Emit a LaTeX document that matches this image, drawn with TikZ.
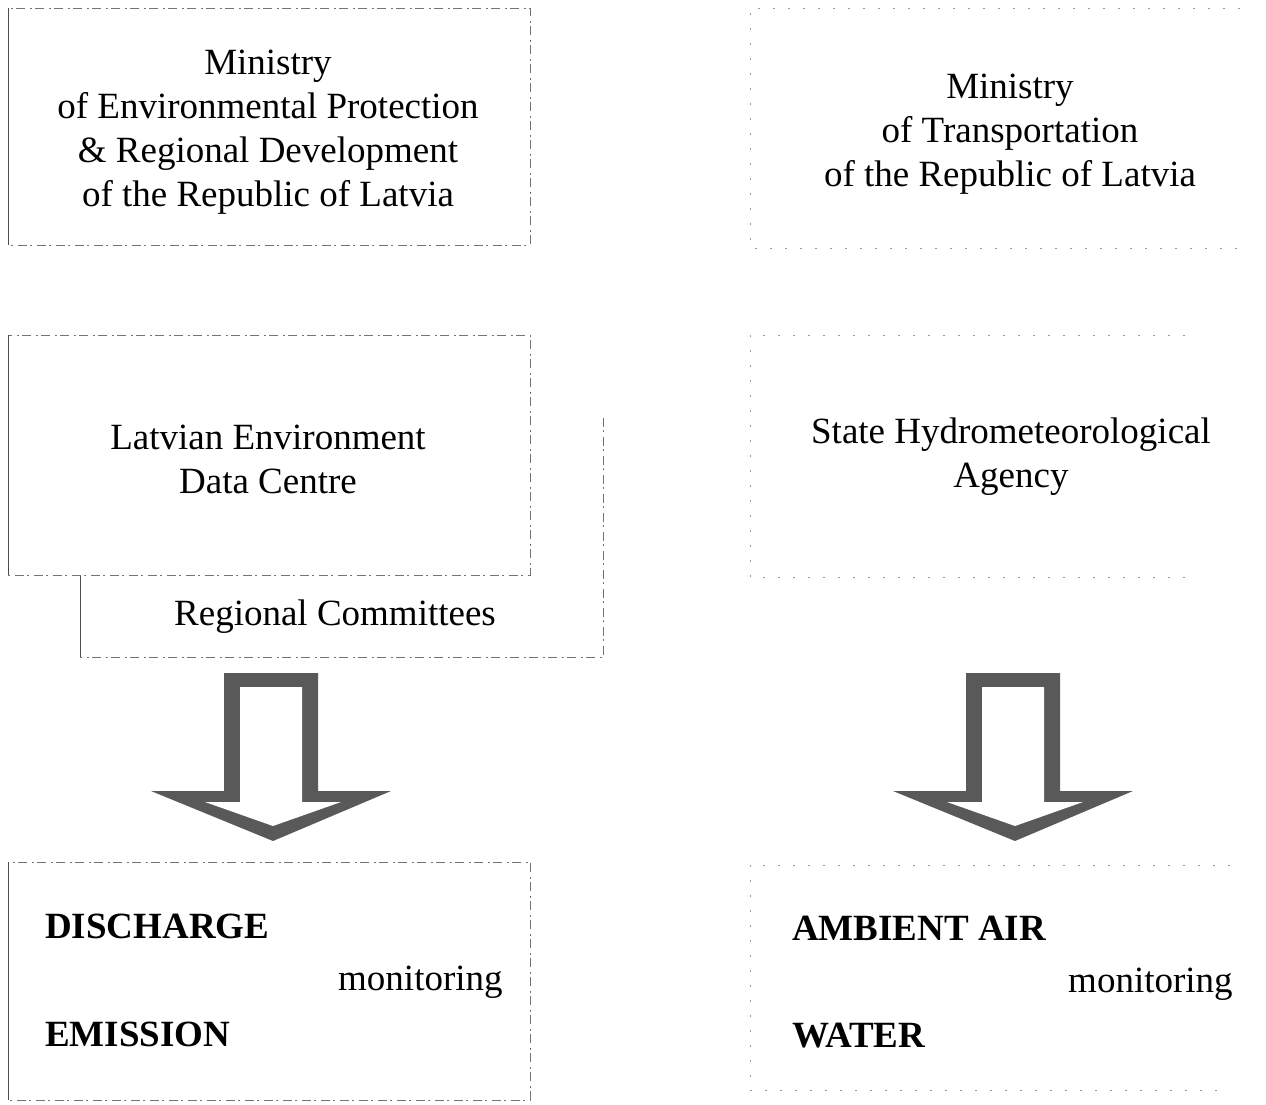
\documentclass[tikz,border=0pt]{standalone}
\usepackage{fontspec}
\setmainfont{Liberation Serif}
\usetikzlibrary{positioning}

\tikzset{
  frame/.style={draw=black!55, line width=0.8pt, dash pattern=on 9pt off 3pt on 2pt off 5pt},
  edge/.style={draw=black!70, line width=0.9pt},
  faint/.style={draw=black!40, line width=0.8pt, dash pattern=on 2pt off 13pt},
  lbl/.style={font=\fontsize{37}{44}\selectfont, align=center, inner sep=0pt},
  kind/.style={font=\fontsize{37}{44}\selectfont\bfseries, inner sep=0pt, anchor=base west},
  mon/.style={font=\fontsize{37}{44}\selectfont, inner sep=0pt, anchor=base west},
  downarrow/.pic={
    \fill[black!65] (-47,673) -- (47,673) -- (47,791) -- (120,791) -- (2,841)
      -- (-120,791) -- (-47,791) -- cycle;
    \fill[white] (-31,687) -- (31,687) -- (31,802) -- (70,802) -- (2,826)
      -- (-66,802) -- (-31,802) -- cycle;
  }
}

\begin{document}
\begin{tikzpicture}[x=1pt,y=-1pt]
 \useasboundingbox (0,0) rectangle (1266,1105);

 % boxes
 \draw[frame] (8,8) rectangle (530,245);
 \draw[edge] (8,8) -- (8,245);
 \draw[faint] (1240,8) -- (750,8) -- (750,248) -- (1240,248);
 \draw[frame] (603,418) -- (603,657) -- (80,657) -- (80,575);
 \draw[edge] (80,575) -- (80,657);
 \draw[frame,fill=white] (8,335) rectangle (530,575);
 \draw[edge] (8,335) -- (8,575);
 \draw[faint] (1185,335) -- (750,335) -- (750,577) -- (1185,577);
 \draw[frame] (8,862) rectangle (530,1100);
 \draw[edge] (8,862) -- (8,1100);
 \draw[faint] (1230,865) -- (750,865) -- (750,1090) -- (1230,1090);

 % bodies
 \node[lbl] (mep) at (268,132) {Ministry\\of Environmental Protection\\\& Regional Development\\of the Republic of Latvia};
 \node[lbl] (mot) at (1010,134) {Ministry\\of Transportation\\of the Republic of Latvia};
 \node[lbl] (ledc) at (268,459) {Latvian Environment\\Data Centre};
 \node[lbl] (rc) at (335,617) {Regional Committees};
 \node[lbl] (sha) at (1011,457) {State Hydrometeorological\\Agency};

 % arrows
 \pic at (271,0) {downarrow};
 \pic at (1013,0) {downarrow};

 % monitoring
 \node[kind] (disch) at (45,938) {DISCHARGE};
 \node[mon] (mon1) at (338,990) {monitoring};
 \node[kind] (emis) at (45,1046) {EMISSION};
 \node[kind] (air) at (792,940) {AMBIENT AIR};
 \node[mon] (mon2) at (1068,992) {monitoring};
 \node[kind] (water) at (792,1047) {WATER};
\end{tikzpicture}
\end{document}
